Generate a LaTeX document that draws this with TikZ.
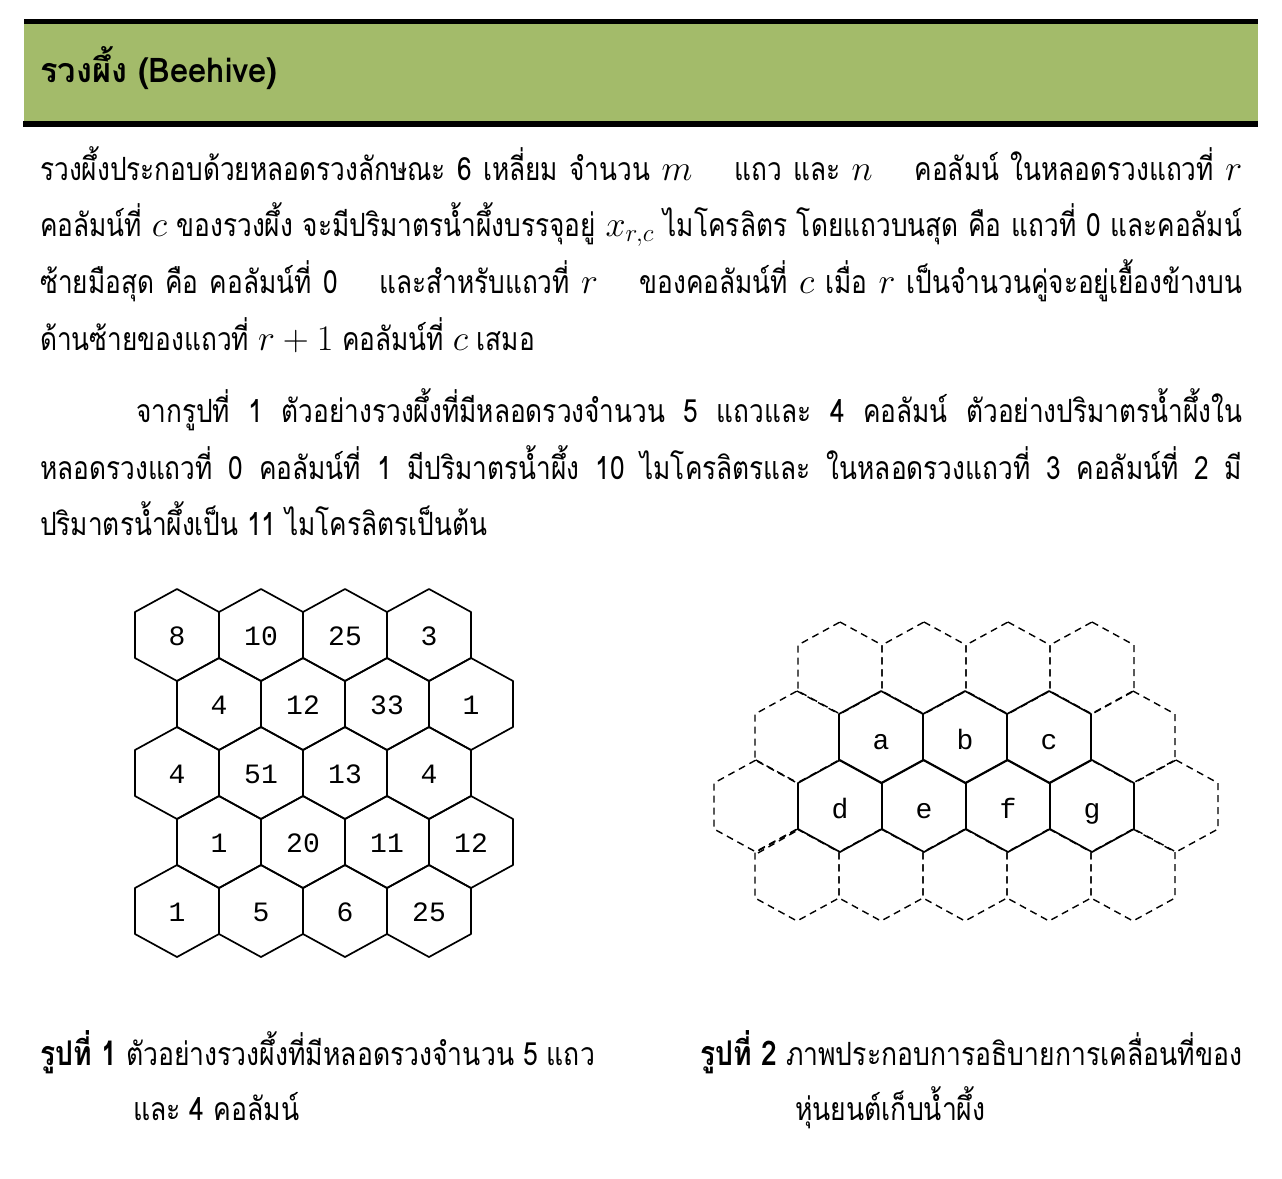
\documentclass[tikz,border=0pt]{standalone}
\usepackage{fix-cm}
\usepackage{fontspec}
\newfontfamily\thai[Script=Thai,FakeStretch=0.82]{Loma}
\newfontfamily\thaicap[Script=Thai,FakeStretch=0.83]{Loma}
\newfontfamily\thaititle[Script=Thai,FakeStretch=0.96]{Loma}
\newfontfamily\monof{Liberation Mono}
\definecolor{bandgreen}{RGB}{163,187,106}
\newcommand\bodyfont{\thai\fontsize{32}{36}\selectfont}
\newcommand\mth[1]{{\fontsize{36}{40}\selectfont$#1$}}
\newcommand\jline[1]{\makebox[1202pt][s]{#1}}
\newcommand\hexat[3][]{\draw[#1] (#2,#3) ++(0,-46) -- ++(42,23) -- ++(0,46) -- ++(-42,23) -- ++(-42,-23) -- ++(0,-46) -- cycle;}
\tikzset{
  txt/.style={anchor=base west, inner sep=0pt, font=\bodyfont},
  captxt/.style={anchor=base west, inner sep=0pt, font=\thaicap\fontsize{32}{36}\selectfont},
  solidhex/.style={line width=1.7pt, line join=round, line cap=round},
  dashhex/.style={line width=1.4pt, dash pattern=on 7pt off 5pt},
  cell/.style={anchor=base, inner sep=0pt, font=\monof\fontsize{28}{30}\selectfont}
}
\begin{document}
\begin{tikzpicture}[x=1pt,y=-1pt]
\useasboundingbox (0,0) rectangle (1282,1178);
% header
\fill[bandgreen] (24,24) rectangle (1258,121);
\fill[black] (24,19) rectangle (1258,24);
\fill[black] (23,121) rectangle (1258,127);
\node[anchor=base west, inner sep=0pt, font=\thaititle\bfseries\fontsize{34}{38}\selectfont] (title) at (40,82) {รวงผึ้ง (Beehive)};
% paragraph 1
\node[txt] (p1l1) at (40,180) {\jline{รวงผึ้งประกอบด้วยหลอดรวงลักษณะ 6 เหลี่ยม จำนวน \mth{m} \hspace{0.6em} แถว และ \mth{n} \hspace{0.6em} คอลัมน์ ในหลอดรวงแถวที่ \mth{r}}};
\node[txt] (p1l2) at (40,236) {\jline{คอลัมน์ที่ \mth{c} ของรวงผึ้ง จะมีปริมาตรน้ำผึ้งบรรจุอยู่ \mth{x_{r,c}} ไมโครลิตร โดยแถวบนสุด คือ แถวที่ 0 และคอลัมน์}};
\node[txt] (p1l3) at (40,293) {\jline{ซ้ายมือสุด คือ คอลัมน์ที่ 0 \hspace{0.6em} และสำหรับแถวที่ \mth{r} \hspace{0.6em} ของคอลัมน์ที่ \mth{c} เมื่อ \mth{r} เป็นจำนวนคู่จะอยู่เยื้องข้างบน}};
\node[txt] (p1l4) at (40,350) {ด้านซ้ายของแถวที่ \mth{r+1} คอลัมน์ที่ \mth{c} เสมอ};
% paragraph 2
\node[txt] (p2l1) at (136,422) {\makebox[1106pt][s]{จากรูปที่ 1 ตัวอย่างรวงผึ้งที่มีหลอดรวงจำนวน 5 แถวและ 4 คอลัมน์ ตัวอย่างปริมาตรน้ำผึ้งใน}};
\node[txt] (p2l2) at (40,479) {\jline{หลอดรวงแถวที่ 0 คอลัมน์ที่ 1 มีปริมาตรน้ำผึ้ง 10 ไมโครลิตรและ ในหลอดรวงแถวที่ 3 คอลัมน์ที่ 2 มี}};
\node[txt] (p2l3) at (40,535) {ปริมาตรน้ำผึ้งเป็น 11 ไมโครลิตรเป็นต้น};
% figure 1
\foreach \r/\vals in {0/{8,10,25,3},1/{4,12,33,1},2/{4,51,13,4},3/{1,20,11,12},4/{1,5,6,25}}{
  \foreach \v [count=\c from 0] in \vals {
    \pgfmathsetmacro\cx{177+84*\c+42*mod(\r,2)}
    \pgfmathsetmacro\cy{635+69*\r}
    \hexat[solidhex]{\cx}{\cy}
    \node[cell] (h\r\c) at (\cx,\cy+10) {\v};
  }
}
% figure 2 dashed
\foreach \cx/\cy in {840/668,924/668,1008/668,1092/668,797/737,1133/737,756/806,1176/806,797/875,881/875,965/875,1049/875,1133/875}{
  \hexat[dashhex]{\cx}{\cy}
}
\draw[dashhex] (758,853) -- (798,830);
% figure 2 solid
\foreach \cx/\cy/\l in {881/737/a,965/737/b,1049/737/c,840/806/d,924/806/e,1008/806/f,1092/806/g}{
  \hexat[solidhex]{\cx}{\cy}
  \node[cell] (m\l) at (\cx,\cy+12) {\l};
}
% captions
\node[captxt] (cap1a) at (40,1065) {{\fontsize{34}{36}\selectfont\textbf{รูปที่ 1}} ตัวอย่างรวงผึ้งที่มีหลอดรวงจำนวน 5 แถว};
\node[captxt] (cap1b) at (133,1120) {และ 4 คอลัมน์};
\node[captxt] (cap2a) at (700,1065) {{\fontsize{34}{36}\selectfont\textbf{รูปที่ 2}} ภาพประกอบการอธิบายการเคลื่อนที่ของ};
\node[captxt] (cap2b) at (795,1120) {หุ่นยนต์เก็บน้ำผึ้ง};
\end{tikzpicture}
\end{document}
